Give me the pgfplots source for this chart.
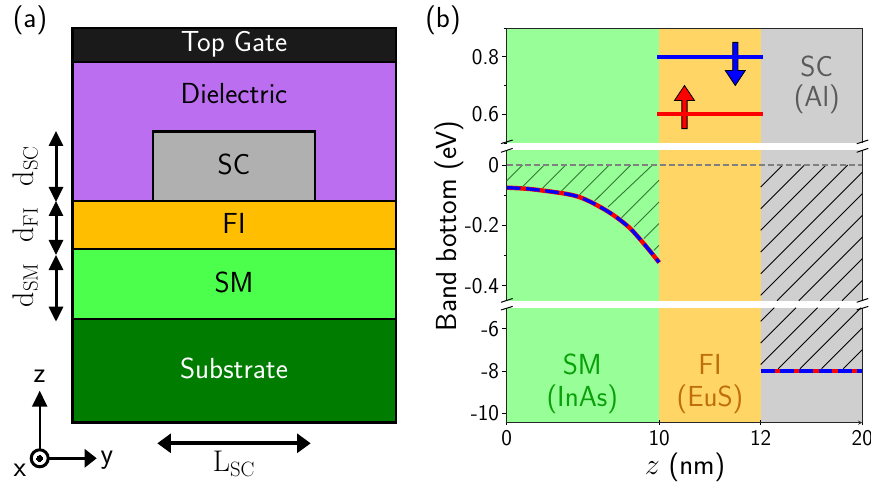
\documentclass[border=0pt]{standalone}
\usepackage{pgfplots}
\pgfplotsset{compat=1.18}
\usetikzlibrary{arrows.meta}
\definecolor{bgSM}{RGB}{152,255,152}
\definecolor{bgFI}{RGB}{255,214,102}
\definecolor{bgSC}{RGB}{207,207,207}
\definecolor{cGate}{RGB}{26,26,26}
\definecolor{cDiel}{RGB}{188,110,240}
\definecolor{cSC}{RGB}{176,176,176}
\definecolor{cFI}{RGB}{255,190,0}
\definecolor{cSM}{RGB}{77,255,77}
\definecolor{cSub}{RGB}{0,125,0}
\definecolor{tSC}{RGB}{90,90,90}
\definecolor{tSM}{RGB}{10,160,10}
\definecolor{tFI}{RGB}{190,110,10}
\definecolor{hatchG}{RGB}{50,120,50}
\newcommand{\fs}[1]{\fontsize{#1}{#1}\selectfont}
\newcommand{\mathbig}[1]{\scalebox{1.2}{\fs{24}#1}}
\pgfplotsset{
  bandaxis/.style={
    scale only axis, width=355.6pt, xmin=0, xmax=7,
    anchor=north west, axis on top,
    ytick pos=left, tick align=outside,
    major tick length=5pt, minor tick length=3pt,
    tick style={black,line width=0.8pt},
    axis line style={-,line width=0.9pt,black!85},
    x axis line style={-}, y axis line style={-},
    y tick label style={font=\sffamily\fs{22.5}, inner sep=0pt, xshift=-2.5pt},
    x tick label style={font=\sffamily\fs{22.5}, inner sep=0pt, yshift=-5pt},
  },
  band/.style={draw=red,line width=4.4pt,smooth},
  bandtop/.style={draw=blue,line width=3.3pt,smooth,dash pattern=on 13.8pt off 5.5pt},
  hg/.style={draw=hatchG,line width=0.9pt},
  hk/.style={draw=black,line width=0.9pt},
}
\begin{document}
\begin{tikzpicture}
\path[use as bounding box] (0,0) rectangle (871pt,484pt);
\clip (0,0) rectangle (871pt,484pt);

% ---- (b) upper segment; x positions: z=0,10,12,20 sit at 0,3,5,7
\begin{axis}[bandaxis, at={(506.7pt,456pt)}, height=115pt,
  ymin=0.5, ymax=0.9, hide x axis, axis y line=box,
  ytick={0.6,0.8}, yticklabels={0.6,0.8}, minor ytick={0.5,0.7,0.9}]
\addplot[fill=bgSM,draw=none] coordinates {(0,0.5)(3,0.5)(3,0.9)(0,0.9)} --cycle;
\addplot[fill=bgFI,draw=none] coordinates {(3,0.5)(5,0.5)(5,0.9)(3,0.9)} --cycle;
\addplot[fill=bgSC,draw=none] coordinates {(5,0.5)(7,0.5)(7,0.9)(5,0.9)} --cycle;
% spin arrows
\addplot[fill=blue,draw=black,line width=0.8pt] coordinates
  {(4.448,0.85)(4.552,0.85)(4.552,0.752)(4.697,0.752)(4.5,0.7)(4.303,0.752)(4.448,0.752)} --cycle;
\addplot[fill=red,draw=black,line width=0.8pt] coordinates
  {(3.448,0.55)(3.552,0.55)(3.552,0.648)(3.697,0.648)(3.5,0.7)(3.303,0.648)(3.448,0.648)} --cycle;
\addplot[draw=blue,line width=4pt,line cap=rect] coordinates {(3,0.8)(5,0.8)};
\addplot[draw=red,line width=4pt,line cap=rect] coordinates {(3,0.6)(5,0.6)};
\end{axis}

% ---- (b) middle segment
\begin{axis}[bandaxis, at={(506.7pt,334pt)}, height=150.7pt,
  ymin=-0.45, ymax=0.05, hide x axis, axis y line=box,
  ytick={-0.4,-0.2,0}, yticklabels={-0.4,-0.2,0}, minor ytick={-0.3,-0.1}]
\addplot[fill=bgSM,draw=none] coordinates {(0,-0.45)(3,-0.45)(3,0.05)(0,0.05)} --cycle;
\addplot[fill=bgFI,draw=none] coordinates {(3,-0.45)(5,-0.45)(5,0.05)(3,0.05)} --cycle;
\addplot[fill=bgSC,draw=none] coordinates {(5,-0.45)(7,-0.45)(7,0.05)(5,0.05)} --cycle;
\addplot[band] coordinates {(0,-0.075)(0.46,-0.0796)(1.116,-0.094)(1.444,-0.107)(1.772,-0.1327)(2.1,-0.166)(2.43,-0.21)(2.76,-0.273)(3,-0.323)};
\addplot[bandtop] coordinates {(0,-0.075)(0.46,-0.0796)(1.116,-0.094)(1.444,-0.107)(1.772,-0.1327)(2.1,-0.166)(2.43,-0.21)(2.76,-0.273)(3,-0.323)};
\end{axis}

% ---- (b) lower segment
\begin{axis}[bandaxis, at={(506.7pt,176.3pt)}, height=115pt,
  ymin=-10.45, ymax=-5, axis x line=bottom, axis y line=box,
  xtick={0,3,5,7}, xticklabels={0,10,12,20},
  ytick={-10,-8,-6}, yticklabels={-10,-8,-6}]
\addplot[fill=bgSM,draw=none] coordinates {(0,-10.45)(3,-10.45)(3,-5)(0,-5)} --cycle;
\addplot[fill=bgFI,draw=none] coordinates {(3,-10.45)(5,-10.45)(5,-5)(3,-5)} --cycle;
\addplot[fill=bgSC,draw=none] coordinates {(5,-10.45)(7,-10.45)(7,-5)(5,-5)} --cycle;
\addplot[band] coordinates {(5,-8)(7,-8)};
\addplot[bandtop] coordinates {(5,-8)(7,-8)};
\end{axis}

% ---- (a) schematic and annotations, in image pixels
\begin{axis}[at={(0,0)}, anchor=south west, scale only axis, width=871pt, height=484pt,
  xmin=0, xmax=871, ymin=0, ymax=484, y dir=reverse, hide axis, clip=false]
\addplot[fill=cGate,draw=black,line width=2.2pt] coordinates {(72.5,28)(396,28)(396,62)(72.5,62)} --cycle;
\addplot[fill=cDiel,draw=black,line width=2.2pt] coordinates {(72.5,62)(396,62)(396,201)(72.5,201)} --cycle;
\addplot[fill=cSC,draw=black,line width=2.2pt] coordinates {(153.3,131.5)(315,131.5)(315,201)(153.3,201)} --cycle;
\addplot[fill=cFI,draw=black,line width=2.2pt] coordinates {(72.5,201)(396,201)(396,249)(72.5,249)} --cycle;
\addplot[fill=cSM,draw=black,line width=2.2pt] coordinates {(72.5,249)(396,249)(396,319)(72.5,319)} --cycle;
\addplot[fill=cSub,draw=black,line width=2.2pt] coordinates {(72.5,319)(396,319)(396,422.5)(72.5,422.5)} --cycle;
% dimension arrows
\addplot[black,line width=3pt,{Triangle[width=14pt,length=15pt]}-{Triangle[width=14pt,length=15pt]}] coordinates {(56,131)(56,202)};
\addplot[black,line width=3pt,{Triangle[width=14pt,length=15pt]}-{Triangle[width=14pt,length=15pt]}] coordinates {(56,201)(56,255)};
\addplot[black,line width=3pt,{Triangle[width=14pt,length=15pt]}-{Triangle[width=14pt,length=15pt]}] coordinates {(56,255)(56,321.7)};
\addplot[black,line width=4pt,{Triangle[width=18.7pt,length=13.5pt]}-{Triangle[width=18.7pt,length=13.5pt]}] coordinates {(157.3,443.3)(310.7,443.3)};
% coordinate triad
\addplot[black,line width=2.4pt,-{Triangle[width=15pt,length=16pt]}] coordinates {(39.7,458.3)(39.7,390.7)};
\addplot[black,line width=3pt,-{Triangle[width=18pt,length=12pt]}] coordinates {(39.7,458.3)(96.7,458.3)};
\addplot[only marks,mark=*,mark size=8.5pt,mark options={fill=white,draw=black,line width=3pt}] coordinates {(39.7,458.3)};
\addplot[only marks,mark=*,mark size=3pt,mark options={fill=black,draw=black,line width=0pt}] coordinates {(39.7,458.3)};
% top spine of (b)
\addplot[draw=black!85,line width=0.9pt] coordinates {(506.7,28)(862.3,28)};
% hatching in the semiconductor
\addplot[hg] coordinates {(506.7,180.8)(522.5,165)};
\addplot[hg] coordinates {(522.5,186.7)(544.2,165)};
\addplot[hg] coordinates {(542.4,188.4)(565.8,165)};
\addplot[hg] coordinates {(561.6,190.9)(587.5,165)};
\addplot[hg] coordinates {(579.5,194.7)(609.2,165)};
\addplot[hg] coordinates {(594.6,201)(630.8,165)};
\addplot[hg] coordinates {(608,207)(652.5,165)};
\addplot[hg] coordinates {(621.5,217.7)(659,180.2)};
\addplot[hg] coordinates {(634,226.9)(659,201.9)};
\addplot[hg] coordinates {(644,238.6)(659,223.6)};
\addplot[hg] coordinates {(654,250.3)(659,245.3)};
% hatching in the superconductor, middle segment
\addplot[hk] coordinates {(760.7,187)(782.7,165)};
\addplot[hk] coordinates {(760.7,208.7)(804.4,165)};
\addplot[hk] coordinates {(760.7,230.3)(826,165)};
\addplot[hk] coordinates {(760.7,252)(847.7,165)};
\addplot[hk] coordinates {(760.7,273.7)(862.3,172.1)};
\addplot[hk] coordinates {(760.7,295.3)(862.3,193.7)};
\addplot[hk] coordinates {(777,300.7)(862.3,215.4)};
\addplot[hk] coordinates {(798.7,300.7)(862.3,237.1)};
\addplot[hk] coordinates {(820.3,300.7)(862.3,258.7)};
\addplot[hk] coordinates {(842,300.7)(862.3,280.4)};
% hatching in the superconductor, lower segment
\addplot[hk] coordinates {(760.7,321.3)(774.3,307.7)};
\addplot[hk] coordinates {(760.7,343)(796,307.7)};
\addplot[hk] coordinates {(760.7,364.6)(817.6,307.7)};
\addplot[hk] coordinates {(778.3,368.7)(839.3,307.7)};
\addplot[hk] coordinates {(800,368.7)(861,307.7)};
\addplot[hk] coordinates {(821.6,368.7)(862.3,328)};
\addplot[hk] coordinates {(843.3,368.7)(862.3,349.7)};
% zero line
\addplot[draw=black!50,line width=1.3pt,dash pattern=on 6pt off 3pt] coordinates {(506.7,165)(862.3,165)};
% axis-break marks
\addplot[black,line width=1pt] coordinates {(501,143.6)(512.7,140)};
\addplot[black,line width=1pt] coordinates {(501,152.3)(512.7,148.4)};
\addplot[black,line width=1pt] coordinates {(856.7,143.8)(868.3,140)};
\addplot[black,line width=1pt] coordinates {(856.7,152.3)(868.3,148.4)};
\addplot[black,line width=1pt] coordinates {(501,302.3)(512.7,298.5)};
\addplot[black,line width=1pt] coordinates {(501,310)(512.7,306.4)};
\addplot[black,line width=1pt] coordinates {(856.7,302.3)(868.3,298.5)};
\addplot[black,line width=1pt] coordinates {(856.7,310)(868.3,306.4)};
% texts
\begin{scope}[every node/.style={font=\sffamily\fs{29},inner sep=0pt}]
\node at (axis cs:30,20) {(a)};
\node at (axis cs:443,20) {(b)};
\node[white] at (axis cs:234,44) {Top Gate};
\node at (axis cs:234,94) {Dielectric};
\node at (axis cs:234,164) {SC};
\node at (axis cs:234,223) {FI};
\node at (axis cs:234,282) {SM};
\node[white] at (axis cs:234,368) {Substrate};
\node at (axis cs:20,470) {x};
\node at (axis cs:107,460) {y};
\node at (axis cs:39.5,376) {z};
\node[rotate=90] at (axis cs:25,166) {\mathbig{$\mathrm{d_{SC}}$}};
\node[rotate=90] at (axis cs:25,225) {\mathbig{$\mathrm{d_{FI}}$}};
\node[rotate=90] at (axis cs:25,285) {\mathbig{$\mathrm{d_{SM}}$}};
\node at (axis cs:234,464) {\mathbig{$\mathrm{L_{SC}}$}};
\node[tSC] at (axis cs:816.7,66.7) {SC};
\node[tSC] at (axis cs:816.7,99.5) {(Al)};
\node[tSM] at (axis cs:582.3,364.5) {SM};
\node[tSM] at (axis cs:582.3,399) {(InAs)};
\node[tFI] at (axis cs:710,364.5) {FI};
\node[tFI] at (axis cs:710,399) {(EuS)};
\node[rotate=90] at (axis cs:449,226) {Band bottom (eV)};
\node at (axis cs:685,467) {\mathbig{$z$ (nm)}};
\end{scope}
\end{axis}
\end{tikzpicture}
\end{document}
